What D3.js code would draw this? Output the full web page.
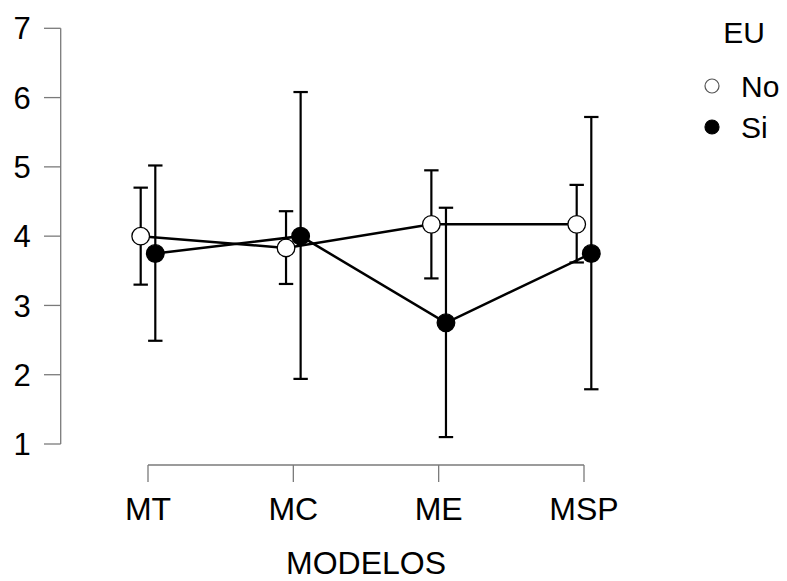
<!DOCTYPE html>
<html>
<head>
<meta charset="utf-8">
<script src="https://cdn.jsdelivr.net/npm/d3@7"></script>
<style>
  body { margin: 0; background: #fff; }
  text { font-family: "Liberation Sans", Arial, sans-serif; fill: #000; }
</style>
</head>
<body>
<svg id="chart" width="787" height="581"></svg>
<script>
  'use strict';

  var categories = ['MT', 'MC', 'ME', 'MSP'];
  var groups = ['No', 'Si'];
  var yTicks = [1, 2, 3, 4, 5, 6, 7];

  var meanNo = [4.0, 3.83, 4.17, 4.17];
  var lowNo = [3.30, 3.31, 3.39, 3.62];
  var highNo = [4.70, 4.36, 4.95, 4.74];

  var meanSi = [3.75, 4.0, 2.75, 3.75];
  var lowSi = [2.49, 1.94, 1.10, 1.79];
  var highSi = [5.02, 6.08, 4.41, 5.72];

  var series = [
    { name: groups[0], fill: '#fff', mean: meanNo, low: lowNo, high: highNo, shift: -7.3 },
    { name: groups[1], fill: '#000', mean: meanSi, low: lowSi, high: highSi, shift: 7.3 }
  ];

  var svg = d3.select('#chart'),
    axisColor = '#7a7a7a';

  var x = d3.scalePoint().domain(categories).range([148, 584]);
  var y = d3.scaleLinear().domain([1, 7]).range([444, 28.3]);

  // y axis
  var yAxis = svg.append('g').attr('transform', 'translate(60.7,0)');
  yAxis.append('line')
    .attr('x1', 0).attr('x2', 0)
    .attr('y1', y(7)).attr('y2', y(1))
    .attr('stroke', axisColor).attr('stroke-width', 1.3);
  yAxis.selectAll('line.tick').data(yTicks).enter().append('line')
    .attr('class', 'tick')
    .attr('x1', -16.7).attr('x2', 0)
    .attr('y1', function (d) { return y(d); })
    .attr('y2', function (d) { return y(d); })
    .attr('stroke', axisColor).attr('stroke-width', 1.3);
  yAxis.selectAll('text').data(yTicks).enter().append('text')
    .attr('x', -30)
    .attr('y', function (d) { return y(d); })
    .attr('dy', '0.36em')
    .attr('text-anchor', 'end')
    .style('font-size', '31px')
    .text(function (d) { return d; });

  // x axis
  var xAxis = svg.append('g').attr('transform', 'translate(0,465)');
  xAxis.append('line')
    .attr('x1', x(categories[0])).attr('x2', x(categories[categories.length - 1]))
    .attr('y1', 0).attr('y2', 0)
    .attr('stroke', axisColor).attr('stroke-width', 1.3);
  xAxis.selectAll('line.tick').data(categories).enter().append('line')
    .attr('class', 'tick')
    .attr('x1', function (d) { return x(d); })
    .attr('x2', function (d) { return x(d); })
    .attr('y1', 0).attr('y2', 17)
    .attr('stroke', axisColor).attr('stroke-width', 1.3);
  xAxis.selectAll('text').data(categories).enter().append('text')
    .attr('x', function (d) { return x(d); })
    .attr('y', 55)
    .attr('text-anchor', 'middle')
    .style('font-size', '32px')
    .text(function (d) { return d; });

  svg.append('text')
    .attr('x', (x(categories[0]) + x(categories[categories.length - 1])) / 2)
    .attr('y', 574)
    .attr('text-anchor', 'middle')
    .style('font-size', '32px')
    .text('MODELOS');

  var line = d3.line()
    .x(function (d) { return d.x; })
    .y(function (d) { return d.y; });

  function points(s) {
    return categories.map(function (c, i) {
      return { x: x(c) + s.shift, y: y(s.mean[i]), low: y(s.low[i]), high: y(s.high[i]) };
    });
  }

  // connecting lines
  series.forEach(function (s) {
    svg.append('path')
      .attr('d', line(points(s)))
      .attr('fill', 'none')
      .attr('stroke', '#000')
      .attr('stroke-width', 2.5);
  });

  // error bars and markers
  series.forEach(function (s) {
    var g = svg.append('g'),
      pts = points(s);

    g.selectAll('line.bar').data(pts).enter().append('line')
      .attr('x1', function (d) { return d.x; })
      .attr('x2', function (d) { return d.x; })
      .attr('y1', function (d) { return d.low; })
      .attr('y2', function (d) { return d.high; })
      .attr('stroke', '#000').attr('stroke-width', 2.2);

    ['low', 'high'].forEach(function (k) {
      g.selectAll('line.cap-' + k).data(pts).enter().append('line')
        .attr('x1', function (d) { return d.x - 7.2; })
        .attr('x2', function (d) { return d.x + 7.2; })
        .attr('y1', function (d) { return d[k]; })
        .attr('y2', function (d) { return d[k]; })
        .attr('stroke', '#000').attr('stroke-width', 2.2);
    });

    g.selectAll('circle').data(pts).enter().append('circle')
      .attr('cx', function (d) { return d.x; })
      .attr('cy', function (d) { return d.y; })
      .attr('r', 8.8)
      .attr('fill', s.fill)
      .attr('stroke', '#000')
      .attr('stroke-width', 1.3);
  });

  // legend
  var legend = svg.append('g');
  legend.append('text')
    .attr('x', 744).attr('y', 43)
    .attr('text-anchor', 'middle')
    .style('font-size', '30px')
    .text('EU');

  var items = legend.selectAll('g.item').data(series).enter().append('g')
    .attr('transform', function (d, i) { return 'translate(0,' + (86 + i * 41) + ')'; });
  items.append('circle')
    .attr('cx', 712).attr('cy', 0).attr('r', 7)
    .attr('fill', function (d) { return d.fill; })
    .attr('stroke', function (d) { return d.fill === '#000' ? '#000' : '#555'; })
    .attr('stroke-width', 1.2);
  items.append('text')
    .attr('x', 741).attr('y', 0).attr('dy', '0.36em')
    .style('font-size', '30px')
    .text(function (d) { return d.name; });
</script>
</body>
</html>
